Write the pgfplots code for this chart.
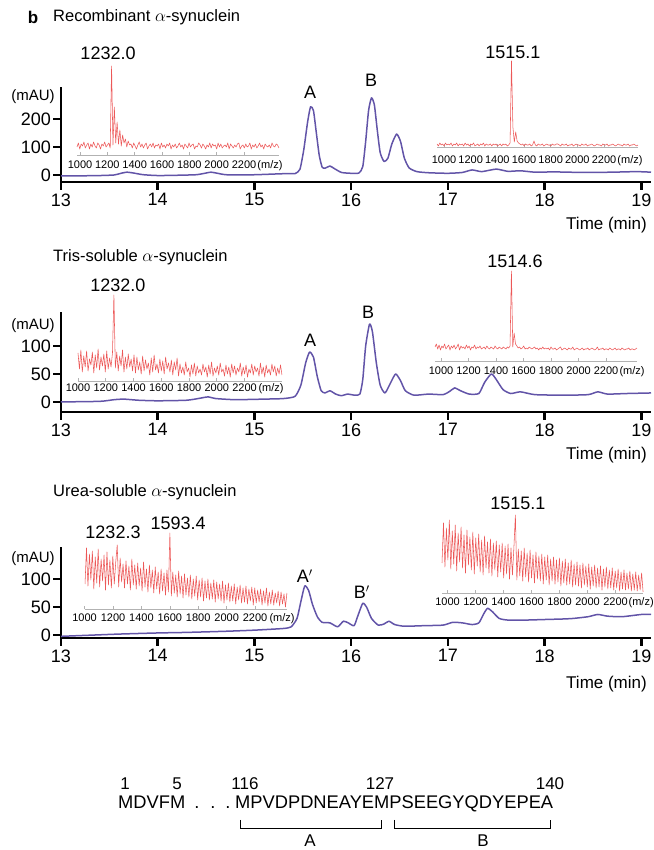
\documentclass[border=0pt]{standalone}
\usepackage{pgfplots}
\pgfplotsset{compat=1.18}
\usepackage{fontspec}
\setmainfont{Liberation Sans}
\definecolor{specred}{RGB}{236,88,88}
\definecolor{chrom}{RGB}{98,84,168}
\newcommand{\fs}[1]{\fontsize{#1}{#1}\selectfont}
\tikzset{mz/.style={font=\fs{11}, inner sep=0pt, anchor=base, yshift=-#1}}
\pgfplotsset{
  mainax/.style={scale only axis, anchor=south west, width=590pt,
    axis x line=bottom, axis y line=left,
    axis line style={-, line width=2.6pt, black},
    xmin=13, xmax=19.1, xtick={13,14,15,16,17,18,19},
    tick align=outside, major tick length=8pt,
    every tick/.style={black, line width=2.6pt},
    tick label style={font=\fs{18}},
    yticklabel style={inner sep=2pt},
    /pgf/number format/assume math mode=true,
    clip=false},
  inset/.style={scale only axis, anchor=south west,
    axis x line=bottom, axis y line=none, ytick=\empty,
    axis line style={-, draw=black!30, line width=0.7pt},
    xtick={1000,1200,1400,1600,1800,2000,2200},
    xticklabels={1000,1200,1400,1600,1800,2000,2200},
    tick align=inside, major tick length=2.5pt,
    every tick/.style={black!30, line width=0.6pt},
    xticklabel style={font=\fs{11}, inner sep=0pt, anchor=base, yshift=-#1},
    ymin=0, clip=false},
  chromline/.style={chrom, line width=1.5pt, line join=round, smooth, tension=0.35},
  specline/.style={specred, line width=0.55pt, line join=round},
}
\begin{document}
\begin{tikzpicture}[x=1pt,y=1pt]
%% ---------------- Panel 1 ----------------
\begin{axis}[mainax, at={(61pt,668pt)}, height=95pt, ymin=-25, ymax=314, ytick={0,100,200}]
\addplot[chromline] coordinates {
(13.00,-3) (13.20,-3) (13.40,-2) (13.55,0) (13.62,6) (13.68,10) (13.75,7) (13.85,1)
(14.00,-2) (14.20,-1) (14.40,1) (14.50,7) (14.55,10) (14.62,6) (14.70,1) (14.90,0)
(15.10,2) (15.25,4) (15.35,5) (15.42,5) (15.47,20) (15.51,90) (15.55,190) (15.58,243)
(15.61,230) (15.64,150) (15.67,70) (15.70,28) (15.73,24) (15.78,32) (15.83,22) (15.90,9)
(16.00,6) (16.08,7) (16.12,30) (16.15,120) (16.18,230) (16.21,275) (16.24,250) (16.27,160)
(16.30,80) (16.34,48) (16.38,60) (16.42,110) (16.47,146) (16.51,120) (16.55,60) (16.60,25)
(16.68,12) (16.80,8) (17.00,6) (17.15,9) (17.25,18) (17.35,12) (17.50,21) (17.62,13)
(17.75,15) (17.90,10) (18.10,11) (18.40,9) (18.70,10) (18.95,12) (19.10,10)};
\node[font=\fs{18}] at (axis cs:15.575,296) {A};
\node[font=\fs{18}] at (axis cs:16.206,339) {B};
\end{axis}
\begin{axis}[inset=14pt, at={(77pt,695pt)}, width=202pt, height=90pt, xmin=978, xmax=2456, ymax=90]
\addplot[specline] table[row sep=\\, x expr=978+10.12*\coordindex, y index=0] {
8\\12\\6\\11\\9\\13\\7\\10\\12\\6\\11\\8\\13\\9\\7\\12\\10\\6\\11\\9\\13\\8\\10\\12\\7\\
89\\10\\48\\12\\33\\11\\25\\9\\20\\12\\16\\8\\14\\10\\
11\\7\\12\\9\\6\\10\\13\\8\\11\\7\\10\\12\\6\\9\\11\\8\\12\\7\\10\\9\\11\\6\\12\\8\\10\\7\\11\\9\\12\\6\\
10\\8\\11\\7\\9\\12\\8\\10\\6\\11\\9\\7\\12\\8\\10\\11\\6\\9\\8\\12\\10\\7\\11\\9\\6\\10\\8\\12\\7\\11\\
9\\10\\6\\12\\8\\11\\7\\9\\10\\8\\12\\6\\11\\9\\7\\10\\8\\11\\12\\6\\9\\10\\7\\11\\8\\9\\12\\6\\10\\8\\
11\\7\\9\\12\\8\\10\\6\\11\\9\\8\\10\\7\\12\\9\\8\\11\\10\\7\\
};
\node[mz=14pt] at (axis cs:2390,0) {(m/z)};
\node[font=\fs{18}] at (axis cs:1205,102) {1232.0};
\end{axis}
\begin{axis}[inset=16.5pt, at={(437pt,703pt)}, width=201pt, height=90pt, xmin=947.5, xmax=2455, ymax=90]
\addplot[specline] table[row sep=\\, x expr=947.5+10.54*\coordindex, y index=0] {
3\\1\\4\\2\\3\\1\\4\\2\\3\\2\\4\\1\\3\\2\\4\\1\\3\\2\\3\\1\\4\\2\\3\\1\\3\\2\\4\\1\\2\\3\\1\\3\\2\\4\\1\\3\\2\\2\\3\\1\\3\\2\\3\\1\\2\\3\\1\\3\\2\\3\\1\\2\\4\\
86\\
20\\5\\15\\6\\4\\3\\
2\\3\\1\\3\\2\\2\\3\\1\\2\\6\\2\\1\\3\\2\\2\\3\\1\\2\\3\\2\\
2\\1\\3\\2\\2\\3\\3\\2\\1\\3\\2\\2\\3\\1\\2\\2\\3\\1\\2\\3\\
2\\2\\1\\3\\2\\2\\3\\1\\2\\2\\3\\2\\1\\2\\3\\2\\2\\1\\3\\2\\
2\\3\\1\\2\\2\\3\\2\\1\\2\\3\\2\\2\\1\\3\\2\\2\\3\\1\\2\\2\\
3\\2\\1\\2\\
};
\node[mz=16.5pt] at (axis cs:2395,0) {(m/z)};
\node[font=\fs{18}] at (axis cs:1517,95) {1515.1};
\end{axis}
%% ---------------- Panel 2 ----------------
\begin{axis}[mainax, at={(61pt,438pt)}, height=100pt, ymin=-18, ymax=160.6, ytick={0,50,100}]
\addplot[chromline] coordinates {
(13.00,0) (13.40,1) (13.55,4) (13.65,5) (13.80,3) (14.00,2) (14.30,3) (14.45,7) (14.52,9)
(14.60,6) (14.80,4) (15.10,5) (15.30,6) (15.42,10) (15.48,30) (15.53,70) (15.57,89) (15.61,80)
(15.65,45) (15.69,20) (15.73,16) (15.78,20) (15.84,14) (15.90,11) (15.96,14) (16.04,12) (16.09,14)
(16.12,40) (16.15,100) (16.19,139) (16.22,125) (16.26,70) (16.30,30) (16.35,16) (16.41,35) (16.46,50)
(16.51,38) (16.56,20) (16.65,12) (16.80,14) (16.95,13) (17.02,19) (17.07,25) (17.13,20) (17.22,14)
(17.32,15) (17.38,35) (17.45,50) (17.50,40) (17.57,22) (17.65,15) (17.75,18) (17.90,13) (18.20,12)
(18.45,13) (18.55,18) (18.65,14) (18.85,15) (19.10,16)};
\node[font=\fs{18}] at (axis cs:15.575,110.7) {A};
\node[font=\fs{18}] at (axis cs:16.175,160.7) {B};
\end{axis}
\begin{axis}[inset=11pt, at={(78pt,469pt)}, width=204pt, height=90pt, xmin=1000, xmax=2470, ymax=90]
\addplot[specline] table[row sep=\\, x expr=1000+10.35*\coordindex, y index=0] {
28\\12\\31\\9\\25\\14\\30\\10\\22\\16\\29\\8\\26\\13\\32\\11\\24\\15\\27\\9\\30\\12\\23\\14\\28\\
86\\
13\\29\\10\\25\\15\\31\\9\\24\\12\\27\\14\\22\\10\\26\\
8\\24\\11\\19\\7\\25\\10\\21\\12\\18\\6\\23\\9\\26\\11\\17\\8\\22\\10\\20\\7\\24\\12\\18\\9\\21\\6\\19\\11\\23\\
5\\17\\8\\14\\6\\19\\9\\13\\4\\16\\7\\18\\5\\15\\8\\12\\6\\17\\9\\14\\
4\\16\\7\\19\\5\\13\\8\\15\\6\\18\\9\\12\\5\\16\\7\\14\\4\\17\\8\\15\\
6\\13\\9\\18\\5\\14\\7\\16\\4\\12\\8\\17\\6\\15\\9\\13\\5\\18\\7\\14\\
4\\16\\8\\12\\6\\17\\9\\15\\5\\13\\7\\16\\6\\
};
\node[mz=11pt] at (axis cs:2391,0) {(m/z)};
\node[font=\fs{18}] at (axis cs:1288,96) {1232.0};
\end{axis}
\begin{axis}[inset=13.2pt, at={(435pt,489pt)}, width=202pt, height=95pt, xmin=956.4, xmax=2425, ymax=95]
\addplot[specline] table[row sep=\\, x expr=956.4+9.92*\coordindex, y index=0] {
14\\17\\12\\16\\11\\15\\13\\17\\12\\14\\16\\11\\15\\13\\16\\12\\14\\17\\11\\15\\
13\\14\\12\\16\\13\\15\\11\\14\\13\\16\\12\\14\\13\\15\\12\\13\\14\\12\\15\\13\\
12\\14\\13\\12\\15\\13\\12\\14\\13\\12\\14\\13\\12\\14\\13\\15\\
90\\
14\\28\\17\\15\\13\\
14\\12\\13\\15\\12\\13\\12\\14\\13\\12\\13\\14\\12\\13\\11\\13\\12\\14\\12\\13\\
12\\13\\11\\14\\12\\12\\13\\11\\12\\13\\14\\11\\12\\13\\12\\11\\13\\12\\12\\14\\
11\\12\\13\\12\\11\\12\\13\\11\\12\\12\\13\\11\\12\\13\\12\\11\\12\\14\\11\\12\\
12\\13\\11\\12\\12\\11\\13\\12\\11\\12\\13\\11\\12\\12\\11\\13\\12\\11\\12\\12\\
13\\11\\12\\12\\11\\12\\13\\
};
\node[mz=13.2pt] at (axis cs:2389,0) {(m/z)};
\node[font=\fs{18}] at (axis cs:1538,100) {1514.6};
\end{axis}
%% ---------------- Panel 3 ----------------
\begin{axis}[mainax, at={(61pt,212pt)}, height=91pt, ymin=-5, ymax=157.5, ytick={0,50,100}]
\addplot[chromline] coordinates {
(13.00,-2) (13.30,0) (13.60,2) (14.00,4) (14.30,5) (14.70,7) (15.00,9) (15.30,12) (15.38,15)
(15.44,30) (15.48,60) (15.52,88) (15.56,80) (15.60,55) (15.65,33) (15.70,23) (15.78,22) (15.86,15)
(15.92,25) (15.97,22) (16.03,17) (16.07,35) (16.12,57) (16.16,50) (16.21,30) (16.28,18) (16.34,20)
(16.39,25) (16.45,19) (16.55,16) (16.75,17) (16.95,18) (17.05,23) (17.15,22) (17.25,19) (17.32,22)
(17.37,38) (17.41,48) (17.46,42) (17.53,30) (17.62,27) (17.80,27) (18.00,28) (18.20,29) (18.30,30)
(18.45,33) (18.55,37) (18.65,34) (18.80,33) (19.00,37) (19.10,37)};
\node[font=\fs{18}] at (axis cs:15.52,105) {A$'$};
\node[font=\fs{18}] at (axis cs:16.11,77) {B$'$};
\end{axis}
\begin{axis}[inset=12.3pt, at={(84.6pt,241pt)}, width=202.4pt, height=80pt, xmin=1000, xmax=2425, ymax=80]
\addplot[specline] table[row sep=\\, x expr=1003+10.30*\coordindex, y index=0] {
25\\61\\23\\55\\29\\58\\20\\52\\26\\60\\22\\50\\28\\54\\19\\57\\24\\49\\21\\53\\25\\47\\
64\\
22\\51\\27\\45\\21\\48\\25\\43\\19\\50\\24\\44\\20\\46\\23\\41\\18\\47\\22\\40\\17\\44\\21\\39\\16\\42\\20\\37\\15\\40\\18\\36\\14\\39\\17\\
76\\
13\\37\\16\\34\\12\\38\\15\\33\\11\\35\\14\\31\\12\\34\\10\\30\\13\\33\\9\\29\\
12\\31\\8\\28\\11\\30\\9\\26\\10\\29\\7\\27\\10\\25\\8\\28\\6\\24\\9\\26\\
7\\23\\8\\25\\5\\22\\9\\24\\6\\21\\7\\23\\5\\20\\8\\22\\4\\21\\6\\19\\
7\\20\\4\\18\\6\\21\\3\\17\\5\\19\\4\\16\\6\\18\\3\\17\\5\\15\\2\\16\\
};
\node[mz=12.3pt] at (axis cs:2390,0) {(m/z)};
\node[font=\fs{18}] at (axis cs:1658,86) {1593.4};
\node[font=\fs{18}] at (axis cs:1200,77) {1232.3};
\end{axis}
\begin{axis}[inset=12.3pt, at={(442pt,257pt)}, width=201pt, height=80pt, xmin=960.7, xmax=2396, ymax=80]
\addplot[specline] table[row sep=\\, x expr=960.7+10.48*\coordindex, y index=0] {
30\\70\\26\\65\\33\\73\\24\\62\\29\\68\\22\\60\\31\\66\\25\\58\\20\\63\\28\\56\\
23\\61\\19\\55\\27\\59\\21\\53\\18\\57\\25\\51\\20\\54\\17\\50\\23\\52\\16\\48\\
21\\50\\15\\47\\19\\49\\14\\45\\18\\46\\
78\\
13\\44\\17\\42\\12\\45\\16\\40\\11\\43\\15\\38\\10\\41\\14\\37\\12\\39\\9\\36\\
13\\38\\8\\34\\12\\36\\9\\33\\11\\35\\7\\32\\10\\34\\8\\30\\9\\33\\6\\29\\
8\\31\\7\\28\\5\\30\\8\\27\\6\\29\\4\\26\\7\\28\\5\\25\\6\\27\\3\\24\\
6\\26\\4\\23\\5\\25\\3\\22\\5\\24\\2\\21\\4\\23\\3\\20\\4\\22\\2\\19\\
3\\21\\2\\18\\3\\20\\1\\
};
\node[mz=12.3pt] at (axis cs:2383,0) {(m/z)};
\node[font=\fs{18}] at (axis cs:1503,90) {1515.1};
\end{axis}
%% ---------------- Texts ----------------
\node[font=\fs{17}\bfseries] at (33,833) {b};
\node[font=\fs{16.5}, anchor=west, inner sep=0] at (53,833) {Recombinant $\alpha$-synuclein};
\node[font=\fs{16.5}, anchor=west, inner sep=0] at (53,593) {Tris-soluble $\alpha$-synuclein};
\node[font=\fs{16.5}, anchor=west, inner sep=0] at (53,358) {Urea-soluble $\alpha$-synuclein};
\node[font=\fs{15}] at (33,753) {(mAU)};
\node[font=\fs{15}] at (33,524) {(mAU)};
\node[font=\fs{15}] at (33,291) {(mAU)};
\node[font=\fs{17}, anchor=east, inner sep=0] at (647,625) {Time (min)};
\node[font=\fs{17}, anchor=east, inner sep=0] at (647,395) {Time (min)};
\node[font=\fs{17}, anchor=east, inner sep=0] at (647,166) {Time (min)};
%% sequence
\node[font=\fs{17}, anchor=base, inner sep=0] at (125,60) {1};
\node[font=\fs{17}, anchor=base, inner sep=0] at (177,60) {5};
\node[font=\fs{17}, anchor=base, inner sep=0] at (245,60) {116};
\node[font=\fs{17}, anchor=base, inner sep=0] at (380,60) {127};
\node[font=\fs{17}, anchor=base, inner sep=0] at (550,60) {140};
\node[font=\fs{18.3}, anchor=base west, inner sep=0] at (118,41) {MDVFM};
\node[font=\fs{18.3}, anchor=base, inner sep=0] at (197,41) {.};
\node[font=\fs{18.3}, anchor=base, inner sep=0] at (213,41) {.};
\node[font=\fs{18.3}, anchor=base, inner sep=0] at (228,41) {.};
\node[font=\fs{18.3}, anchor=base west, inner sep=0] at (235,41) {MPVDPDNEAYEMPSEEGYQDYEPEA};
\draw[line width=0.8pt] (240,30) -- (240,22) -- (381,22) -- (381,30);
\draw[line width=0.8pt] (394,30) -- (394,22) -- (550,22) -- (550,30);
\node[font=\fs{17}, anchor=base, inner sep=0] at (310,3) {A};
\node[font=\fs{17}, anchor=base, inner sep=0] at (483,3) {B};
\pgfresetboundingbox
\useasboundingbox (0,0) rectangle (653,850);
\end{tikzpicture}
\end{document}
